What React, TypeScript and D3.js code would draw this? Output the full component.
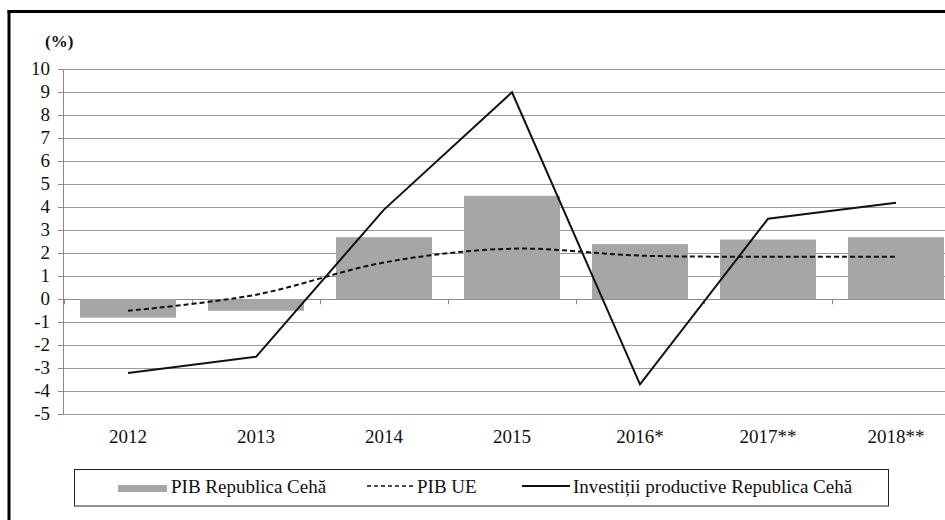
import React from "react";
import * as d3 from "d3";

const categories = ["2012", "2013", "2014", "2015", "2016*", "2017**", "2018**"];
const pibCehia = [-0.8, -0.5, 2.7, 4.5, 2.4, 2.6, 2.7];
const pibUE = [-0.5, 0.2, 1.6, 2.2, 1.9, 1.85, 1.85];
const investitii = [-3.2, -2.5, 3.9, 9.0, -3.7, 3.5, 4.2];
const yTicks = [-5, -4, -3, -2, -1, 0, 1, 2, 3, 4, 5, 6, 7, 8, 9, 10];
const unitLabel = "(%)";
const legendLabels = ["PIB Republica Cehă", "PIB UE", "Investiții productive Republica Cehă"];

const W = 945;
const H = 520;

export default function App() {
  const x = d3.scaleBand<string>().domain(categories).range([64, 960]).paddingInner(0.25).paddingOuter(0.125);
  const y = d3.scaleLinear().domain([-5, 10]).range([414.3, 69.3]);
  const cx = (c: string) => (x(c) as number) + x.bandwidth() / 2;

  const solidLine = d3
    .line<number>()
    .x((_, i) => cx(categories[i]))
    .y((d) => y(d));
  const dashLine = d3
    .line<number>()
    .x((_, i) => cx(categories[i]))
    .y((d) => y(d))
    .curve(d3.curveCatmullRom.alpha(0.5));

  const axisX = 63;
  const step = x.step();
  const bandStart = (x(categories[0]) as number) - x.paddingOuter() * step;

  return (
    <svg width={W} height={H} style={{ position: "fixed", left: 0, top: 0, fontFamily: "Liberation Serif" }}>
      <rect x={0} y={0} width={W} height={H} fill="#fff" />
      {/* outer frame */}
      <line x1={7.5} x2={W} y1={11.5} y2={11.5} stroke="#000" strokeWidth={3} />
      <line x1={9} x2={9} y1={10} y2={H} stroke="#000" strokeWidth={3} />

      {/* unit label */}
      <text x={45} y={47} fontWeight="bold" fontSize={17} fill="#111">
        {unitLabel}
      </text>

      {/* gridlines */}
      {yTicks.map((t) => (
        <line key={"g" + t} x1={axisX} x2={W} y1={Math.round(y(t)) + 0.5} y2={Math.round(y(t)) + 0.5} stroke={t === 0 ? "#8a8a8a" : "#9a9a9a"} strokeWidth={1} />
      ))}

      {/* y axis */}
      <line x1={axisX + 0.5} x2={axisX + 0.5} y1={y(10)} y2={y(-5) + 0.5} stroke="#8a8a8a" strokeWidth={1} />
      {yTicks.map((t) => (
        <g key={"t" + t}>
          <line x1={axisX - 5} x2={axisX} y1={Math.round(y(t)) + 0.5} y2={Math.round(y(t)) + 0.5} stroke="#8a8a8a" />
          <text x={50} y={y(t) + 6} textAnchor="end" fontSize={19} fill="#111">
            {t}
          </text>
        </g>
      ))}

      {/* bars */}
      {categories.map((c, i) => {
        const v = pibCehia[i];
        return (
          <rect
            key={"b" + c}
            x={x(c)}
            width={x.bandwidth()}
            y={Math.min(y(v), y(0))}
            height={Math.abs(y(v) - y(0))}
            fill="#a6a6a6"
          />
        );
      })}

      {/* x axis ticks at band boundaries */}
      {categories.map((c, i) => (
        <line key={"xt" + c} x1={bandStart + i * step + 0.5} x2={bandStart + i * step + 0.5} y1={y(0)} y2={y(0) + 5} stroke="#8a8a8a" />
      ))}

      {/* x labels */}
      {categories.map((c) => (
        <text key={"xl" + c} x={cx(c)} y={443} textAnchor="middle" fontSize={19} fill="#111">
          {c}
        </text>
      ))}

      {/* lines */}
      <path d={dashLine(pibUE) || ""} fill="none" stroke="#111" strokeWidth={2} strokeDasharray="5,3" />
      <path d={solidLine(investitii) || ""} fill="none" stroke="#111" strokeWidth={2} />

      {/* legend */}
      <rect x={74.5} y={469.5} width={814} height={36.5} fill="#fff" stroke="#222" strokeWidth={1} />
      <rect x={118} y={485} width={49} height={7} fill="#a6a6a6" />
      <text x={171} y={493} fontSize={19} fill="#111">
        {legendLabels[0]}
      </text>
      <line x1={367} x2={415} y1={486} y2={486} stroke="#111" strokeWidth={1.5} strokeDasharray="4,3" />
      <text x={417} y={493} fontSize={19} fill="#111">
        {legendLabels[1]}
      </text>
      <line x1={522} x2={570} y1={486} y2={486} stroke="#111" strokeWidth={2} />
      <text x={573} y={493} fontSize={19} fill="#111">
        {legendLabels[2]}
      </text>
    </svg>
  );
}
